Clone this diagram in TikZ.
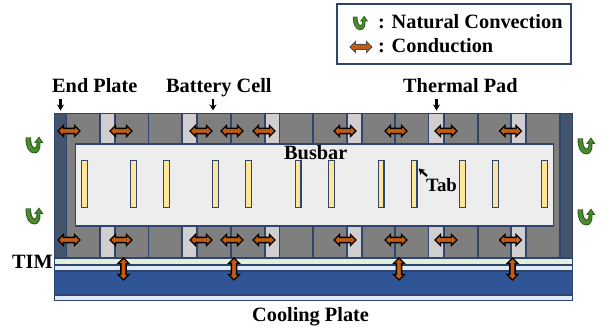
\documentclass[tikz,border=0pt]{standalone}
\usepackage{fontspec}
\setmainfont{Liberation Serif}
\usetikzlibrary{arrows.meta}
\definecolor{edge}{HTML}{2F456E}
\definecolor{endp}{HTML}{44546A}
\definecolor{cellg}{HTML}{7F7F7F}
\definecolor{padg}{HTML}{D0CECE}
\definecolor{busb}{HTML}{EDEDED}
\definecolor{tabc}{HTML}{FFE699}
\definecolor{timc}{HTML}{E2F0D9}
\definecolor{paleb}{HTML}{DEEBF7}
\definecolor{coolb}{HTML}{2F5597}
\definecolor{arrowo}{HTML}{C55A11}
\definecolor{convg}{HTML}{4C8A2E}
\definecolor{convd}{HTML}{2F5F1E}
\tikzset{
  part/.style={draw=edge,line width=1.3pt},
  lbl/.style={font=\fontsize{20.3}{24}\selectfont\bfseries,inner sep=0pt,text=black},
  condarrow/.style={draw=black,line width=1.4pt,fill=arrowo,line join=miter},
  pointer/.style={-{Stealth[length=6pt,width=7pt]},line width=2.2pt,black},
  legendarrow/.style={draw=black!70,line width=0.8pt,fill=arrowo,line join=miter},
}
% double-headed conduction arrow: centre x, centre y, angle, style
\newcommand{\condicon}[4][condarrow]{%
  \path[#1,shift={(#2,#3)},rotate=#4]
    (-11,0) -- (-5.5,-5.5) -- (-5.5,-2.6) -- (5.5,-2.6) -- (5.5,-5.5) -- (11,0)
    -- (5.5,5.5) -- (5.5,2.6) -- (-5.5,2.6) -- (-5.5,5.5) -- cycle;}
% green convection icon
\newcommand{\convicon}[3][1]{%
  \begin{scope}[shift={(#2,#3)},scale=#1]
    \fill[convd] (-8.5,-7.5) .. controls (-8.5,3) and (-5,8.5) .. (0.5,8.5) .. controls (5,8.5) and (7,3) .. (6.5,-2)
      -- (9.5,-2) -- (5,-8.5) -- (0,-2) -- (2.6,-2) .. controls (2.8,1) and (1.8,3) .. (0.3,2.5)
      .. controls (-2,2) and (-3,-3) .. (-3,-7.5) -- cycle;
    \fill[convg] (-7.3,-6.8) .. controls (-7.3,3) and (-4.5,7.4) .. (0.5,7.4) .. controls (4,7.4) and (5.8,3) .. (5.4,-3)
      -- (7.4,-3) -- (5,-6.8) -- (2.2,-3) -- (3.7,-3) .. controls (3.9,2) and (2.8,4.2) .. (0.1,3.7)
      .. controls (-2.8,3) and (-4.2,-2) .. (-4.2,-6.8) -- cycle;
  \end{scope}}
\begin{document}
\begin{tikzpicture}[x=1pt,y=-1pt]
\useasboundingbox (0,0) rectangle (603,328);
% legend
\node[draw=edge,line width=1.2pt,minimum width=234pt,minimum height=60pt,inner sep=0pt] (legend) at (454,34) {};
% pack body
\fill[cellg] (54.5,113.5) rectangle (572.5,258);
\foreach \a/\b in {100/115,182/197,265/279.5,347/362,429/444,511/526}{
  \fill[padg] (\a,113.5) rectangle (\b,144);
  \fill[padg] (\a,226) rectangle (\b,258);
}
\foreach \x in {100,115,148.5,182,197,231,265,279.5,313,347,362,395,428.5,444,478,511,526}{
  \fill[edge] (\x-0.7,113.5) rectangle (\x+0.7,144);
  \fill[edge] (\x-0.7,226) rectangle (\x+0.7,258);
}
\draw[part,fill=endp] (54.5,113.5) rectangle (66.5,258);
\draw[part,fill=endp] (560,113.5) rectangle (572.5,258);
\draw[part] (54.5,113.5) -- (572.5,113.5);
% busbar
\node[part,fill=busb,inner sep=0pt,minimum width=478pt,minimum height=82pt] (busbar) at (314.5,185) {};
% tabs
\foreach \x in {84.5,133.5,166.5,215.5,248.5,298,331.5,381,414,462.5,495.5,544.5}{
  \fill[edge] (\x-3.5,160) rectangle (\x+3.5,208);
  \fill[tabc] (\x-2.1,161.4) rectangle (\x+2.1,206.6);
}
% cooling stack
\draw[part,fill=timc] (54.5,258) rectangle (572.5,265);
\draw[part,fill=paleb] (54.5,265) rectangle (572.5,271);
\draw[part,fill=coolb] (54.5,271) rectangle (572.5,295);
\draw[part,fill=paleb] (54.5,295) rectangle (572.5,300.5);
% conduction arrows
\foreach \x in {69,121,201,232,264,345,396,446,510.5}{
  \condicon{\x}{131}{0}
  \condicon{\x}{240}{0}
}
\foreach \x in {123.5,234,399,512.5}{
  \condicon{\x}{269}{90}
}
% convection
\convicon{34}{145}
\convicon{34}{216}
\convicon{586}{146}
\convicon{586}{217}
% legend icons
\convicon[0.85]{360}{23}
\condicon[legendarrow]{361}{47}{0}
% labels
\node[lbl,anchor=base west] (lnat) at (378,29) {: Natural Convection};
\node[lbl,anchor=base west] (lcon) at (378,53) {: Conduction};
\node[lbl,anchor=base west] (lend) at (52,93) {End Plate};
\node[lbl,anchor=base west] (lbat) at (166,93) {Battery Cell};
\node[lbl,anchor=base west] (lthe) at (403,93) {Thermal Pad};
\node[lbl,anchor=base west] (lbus) at (284,160) {Busbar};
\node[lbl,anchor=base west,font=\fontsize{18.8}{22}\selectfont\bfseries] (ltab) at (426,192) {Tab};
\node[lbl,anchor=base west] (ltim) at (12,269) {TIM};
\node[lbl,anchor=base west] (lcool) at (252,322) {Cooling Plate};
% pointers
\coordinate (pe) at (60.5,99.5); \coordinate (pe2) at (60.5,110.5);
\coordinate (pb) at (213,99.5); \coordinate (pb2) at (213,110.5);
\coordinate (pt) at (436.5,99.5); \coordinate (pt2) at (436.5,110.5);
\coordinate (pa) at (427,176); \coordinate (pa2) at (418.5,168.5);
\draw[pointer] (pe) -- (pe2);
\draw[pointer] (pb) -- (pb2);
\draw[pointer] (pt) -- (pt2);
\draw[pointer] (pa) -- (pa2);
\end{tikzpicture}
\end{document}
